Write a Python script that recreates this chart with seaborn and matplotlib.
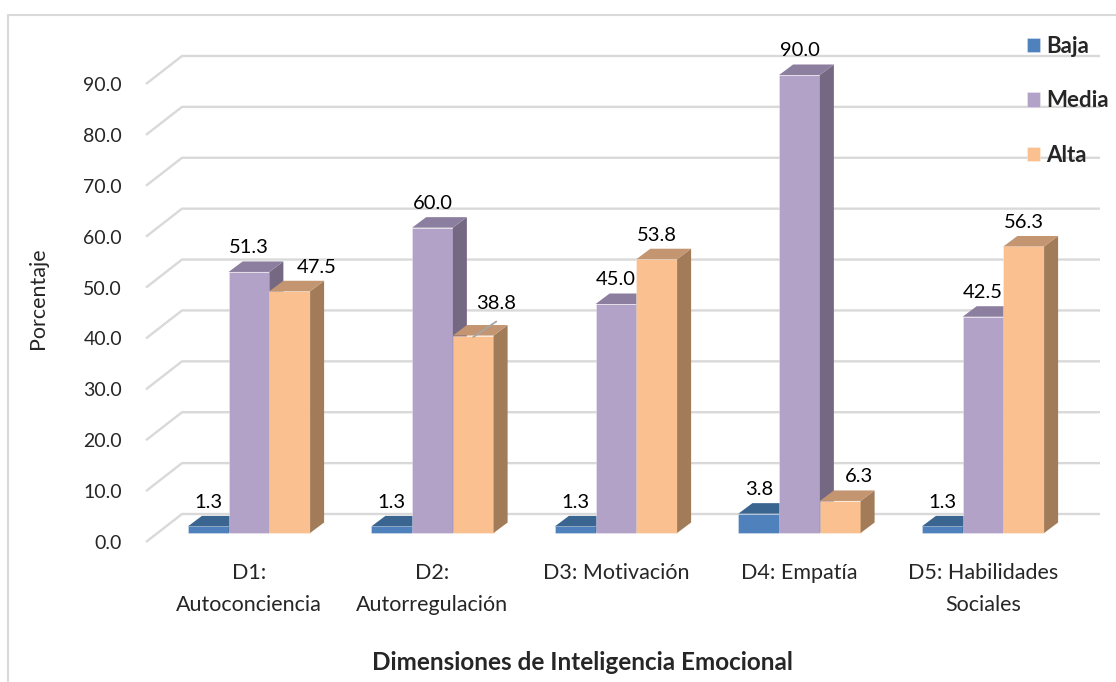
import matplotlib
matplotlib.use("Agg")
import matplotlib.pyplot as plt
from matplotlib.patches import Polygon
import seaborn as sns
import pandas as pd

# ---------------- data ----------------
categories = ["D1:\nAutoconciencia", "D2:\nAutorregulación", "D3: Motivación",
              "D4: Empatía", "D5: Habilidades\nSociales"]
levels = ["Baja", "Media", "Alta"]
baja = [1.3, 1.3, 1.3, 3.8, 1.3]
media = [51.3, 60.0, 45.0, 90.0, 42.5]
alta = [47.5, 38.8, 53.8, 6.3, 56.3]
yticks = [0, 10, 20, 30, 40, 50, 60, 70, 80, 90]

# ---------------- style ----------------
FONT = ["Lato", "DejaVu Sans"]
front_cols = {"Baja": "#4F81BD", "Media": "#B3A2C7", "Alta": "#FAC090"}
top_cols = {"Baja": "#3A6591", "Media": "#8B7E9F", "Alta": "#C39570"}
side_cols = {"Baja": "#3A6591", "Media": "#746883", "Alta": "#A27C59"}
GRID = "#D9D9D9"

sns.set_theme(style="white")
plt.rcParams["font.family"] = FONT

W, H = 1116, 682
fig = plt.figure(figsize=(W / 100, H / 100), dpi=100)

# pixel geometry of the plotting area
px_left, px_right, px_top, px_bot = 145, 1116, 30, 560
x0_px, xstep_px = 249.0, 183.5          # group 0 centre, group spacing
y0_px, ystep_px = 533.0, 5.089          # bar baseline, px per unit
ax = fig.add_axes([px_left / W, (H - px_bot) / H,
                   (px_right - px_left) / W, (px_bot - px_top) / H])

# depth offsets
dx = 14 / xstep_px
dy = 10.5 / ystep_px

df = pd.DataFrame({
    "cat": categories * 3,
    "nivel": [l for l in levels for _ in categories],
    "val": baja + media + alta,
})

sns.barplot(data=df, x="cat", y="val", hue="nivel", order=categories,
            hue_order=levels, palette=front_cols, width=0.666, gap=0,
            saturation=1, linewidth=0.6, edgecolor=(1, 1, 1, 0.35),
            ax=ax, legend=True)
ax.set_xlim((px_left - x0_px) / xstep_px, (px_right - x0_px) / xstep_px)
ax.set_ylim((y0_px - px_bot) / ystep_px, (y0_px - px_top) / ystep_px)

# gridlines in pseudo-3D (front diagonal + back wall)
gx_front = (146 - x0_px) / xstep_px
gx_back = (182 - x0_px) / xstep_px
gx_end = (1100 - x0_px) / xstep_px
off_front = (y0_px - 542) / ystep_px
off_back = (y0_px - 514) / ystep_px
for t in yticks:
    ax.plot([gx_front, gx_back, gx_end],
            [t + off_front, t + off_back, t + off_back],
            color=GRID, lw=1.7, zorder=0.5, solid_capstyle="butt")

# 3D faces
bars = []
for lvl, cont in zip(levels, ax.containers):
    for rect in cont:
        bars.append((rect.get_x(), lvl, rect))
bars.sort(key=lambda b: b[0])
for i, (_, lvl, rect) in enumerate(bars):
    x, w, h = rect.get_x(), rect.get_width(), rect.get_height()
    z = 3 + 0.1 * i
    rect.set_zorder(z)
    top = Polygon([(x, h), (x + w, h), (x + w + dx, h + dy), (x + dx, h + dy)],
                  closed=True, facecolor=top_cols[lvl], edgecolor="none", zorder=z + 0.05)
    side = Polygon([(x + w, 0), (x + w + dx, dy), (x + w + dx, h + dy), (x + w, h)],
                   closed=True, facecolor=side_cols[lvl], edgecolor="none", zorder=z + 0.04)
    ax.add_patch(side)
    ax.add_patch(top)

# data labels (offsets in px for labels Excel moved)
nudges = {("Alta", 0): (27, 0), ("Alta", 1): (23, 8), ("Alta", 3): (19, 0)}
for lvl, cont in zip(levels, ax.containers):
    for j, rect in enumerate(cont):
        h = rect.get_height()
        cx = rect.get_x() + rect.get_width() / 2
        ndx, ndy = nudges.get((lvl, j), (0, 0))
        ax.annotate(f"{h:.1f}", xy=(cx, h), xytext=(ndx * 0.72, (24 + ndy) * 0.72),
                    textcoords="offset points", ha="center", va="center",
                    fontsize=14.5, color="#000000", zorder=10)
        if (lvl, j) == ("Alta", 1):
            ax.plot([cx, cx + 23 / xstep_px], [h - 0.3, h + 14 / ystep_px],
                    color="#A6A6A6", lw=1.3, zorder=10)

# axes decoration
for s in ax.spines.values():
    s.set_visible(False)
ax.set_facecolor("none")
ax.set_yticks([t + off_front for t in yticks])
ax.set_yticklabels([f"{t:.1f}" for t in yticks], fontsize=14)
ax.tick_params(axis="y", length=0, pad=16.5)
ax.set_xticks(range(len(categories)))
ax.set_xticklabels(categories, fontsize=15.5, linespacing=1.74)
ax.tick_params(axis="x", length=0, pad=2.5)
ax.set_xlabel("")
ax.set_ylabel("Porcentaje", fontsize=15.5, labelpad=0)
ax.yaxis.set_label_coords((48 - px_left) / (px_right - px_left),
                          (px_bot - 298) / (px_bot - px_top))
ax.grid(False)

# legend
handles, labels = ax.get_legend_handles_labels()
leg = ax.legend(handles, labels, loc="upper left",
                bbox_to_anchor=(1027 / W, (H - 36) / H), bbox_transform=fig.transFigure,
                frameon=False, prop={"family": FONT, "weight": "bold", "size": 16},
                handlelength=0.6, handleheight=0.6, handletextpad=0.25,
                labelspacing=1.5, borderpad=0, borderaxespad=0)
leg.set_zorder(20)

# x-axis title
fig.text(582 / W, 1 - 662 / H, "Dimensiones de Inteligencia Emocional",
         ha="center", va="center", fontsize=17.5, fontweight="bold")

# chart border (light grey)
fig.add_artist(plt.Line2D([8 / W, 8 / W], [0, 1 - 15 / H], color=GRID, lw=1.5,
                          transform=fig.transFigure))
fig.add_artist(plt.Line2D([8 / W, 1], [1 - 15 / H, 1 - 15 / H], color=GRID, lw=1.5,
                          transform=fig.transFigure))

fig.savefig("out.png", dpi=100)
